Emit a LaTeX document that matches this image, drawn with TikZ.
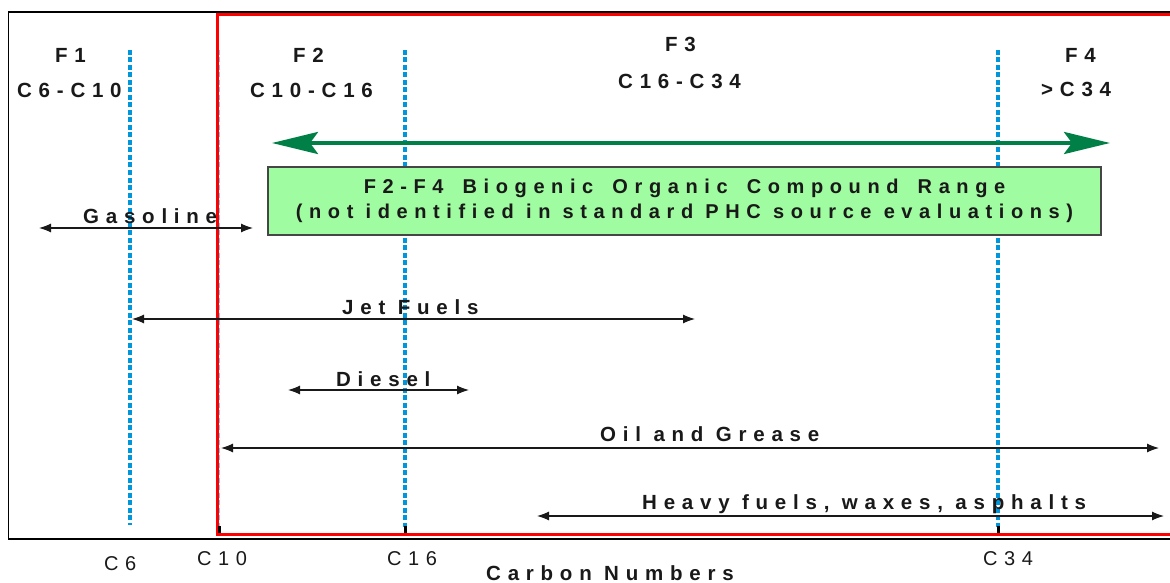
\documentclass[tikz,border=0pt]{standalone}
\usepackage{fontspec}
\setmainfont{Liberation Sans}
\newfontfamily\spaced[LetterSpace=33]{Liberation Sans}
\newcommand\wgap{\hspace{7pt}}
\usetikzlibrary{arrows.meta}
\definecolor{dotblue}{RGB}{0,150,220}
\definecolor{arrgreen}{RGB}{0,128,70}
\definecolor{boxgreen}{RGB}{160,252,160}
\definecolor{txt}{RGB}{25,25,25}
\definecolor{boxedge}{RGB}{70,70,70}
\begin{document}
\begin{tikzpicture}[x=1pt,y=-1pt,
  lbl/.style={font=\spaced\bfseries\fontsize{20.5}{24}\selectfont, text=txt, inner sep=0pt, anchor=base west},
  axl/.style={font=\spaced\fontsize{20}{24}\selectfont, text=txt, inner sep=0pt, anchor=base west},
  fuel/.style={draw=txt, line width=1.1pt, {Latex[length=12pt,width=9pt]}-{Latex[length=12pt,width=9pt]}},
  cline/.style={dotblue, line width=3.5pt, dash pattern=on 5pt off 2.5pt},
  tickmark/.style={line width=3pt, black}]
\useasboundingbox (0,0) rectangle (1170,583);
\clip (0,0) rectangle (1170,583);
% frames
\draw[black, line width=1.5pt] (1180,12) -- (8.5,12) -- (8.5,539) -- (1180,539);
% carbon lines
\draw[dotblue!50, line width=1pt, dash pattern=on 5pt off 2.5pt] (219.8,50) -- (219.8,526);
\draw[cline] (130,50) -- (130,525);
\draw[cline] (405,50) -- (405,527);
\draw[cline] (998,50) -- (998,527);
\draw[red, line width=3pt] (1180,15) -- (217,15) -- (217,534) -- (1180,534);
\draw[tickmark] (219.5,526) -- (219.5,533);
\draw[tickmark] (405,526) -- (405,533);
\draw[tickmark] (998,526) -- (998,533);
% fraction labels
\node[lbl] (f1) at (55,63) {F1};
\node[lbl] (f1r) at (17,98) {C6-C10};
\node[lbl] (f2) at (293,63) {F2};
\node[lbl] (f2r) at (250,98) {C10-C16};
\node[lbl] (f3) at (665,52) {F3};
\node[lbl] (f3r) at (618,89) {C16-C34};
\node[lbl] (f4) at (1065,63) {F4};
\node[lbl] (f4r) at (1041,97) {>C34};
% green range
\coordinate (gL) at (272,143);
\coordinate (gR) at (1110,143);
\draw[arrgreen, line width=4pt, {Stealth[length=46pt,width=22pt,inset=8pt]}-{Stealth[length=46pt,width=22pt,inset=8pt]}] (gL) -- (gR);
\node[draw=boxedge, fill=boxgreen, line width=1.2pt, minimum width=833pt, minimum height=68pt, inner sep=0pt, align=center, font=\spaced\bfseries\fontsize{20}{25}\selectfont, text=txt] (box) at (684.5,201) {F2-F4 \wgap Biogenic \wgap Organic \wgap Compound \wgap Range\\(not identified in standard PHC source evaluations)};
% fuels
\node[lbl] (gas) at (83,223) {Gasoline};
\coordinate (gasL) at (39,228); \coordinate (gasR) at (253,228);
\draw[fuel] (gasL) -- (gasR);
\node[lbl] (jet) at (342,314) {Jet Fuels};
\coordinate (jetL) at (132,319); \coordinate (jetR) at (695,319);
\draw[fuel] (jetL) -- (jetR);
\node[lbl] (dsl) at (336,386) {Diesel};
\coordinate (dslL) at (288,390); \coordinate (dslR) at (469,390);
\draw[fuel] (dslL) -- (dslR);
\node[lbl] (oil) at (600,441) {Oil and Grease};
\coordinate (oilL) at (221,448); \coordinate (oilR) at (1159,448);
\draw[fuel] (oilL) -- (oilR);
\node[lbl] (hvy) at (642,509) {Heavy fuels, waxes, asphalts};
\coordinate (hvyL) at (537,516); \coordinate (hvyR) at (1164,516);
\draw[fuel] (hvyL) -- (hvyR);
% axis
\node[axl] (c6) at (104,570) {C6};
\node[axl] (c10) at (197,565) {C10};
\node[axl] (c16) at (387,565) {C16};
\node[axl] (c34) at (983,565) {C34};
\node[lbl] (axis) at (486,580) {Carbon Numbers};
\end{tikzpicture}
\end{document}
